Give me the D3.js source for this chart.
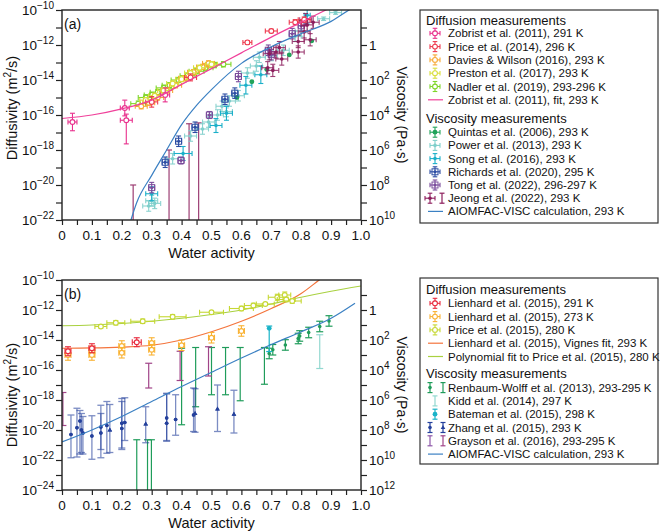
<!DOCTYPE html>
<html><head><meta charset="utf-8">
<script src="https://cdn.jsdelivr.net/npm/d3@7"></script>
<style>
body{margin:0;background:#fff;}
svg{font-family:"Liberation Sans",Arial,Helvetica,sans-serif;}
</style></head><body><svg id="c" width="661" height="532"></svg>
<script>
// ---------- tick labels ----------
const xTicks = [0,0.1,0.2,0.3,0.4,0.5,0.6,0.7,0.8,0.9,1.0];
const xTickLabels = ["0","0.1","0.2","0.3","0.4","0.5","0.6","0.7","0.8","0.9","1.0"];
const aDiffExp = [-10,-12,-14,-16,-18,-20,-22];
const aViscExp = [0,2,4,6,8,10];
const bDiffExp = [-10,-12,-14,-16,-18,-20,-22,-24];
const bViscExp = [0,2,4,6,8,10,12];

// ---------- panel (a) data: [aw, log10 D, xerr, yDown, yUp] ----------
const zobrist2011 = [[0.035,-16.4,0.015,0.5,0.5],[0.21,-15.6,0.015,0.45,0.45],[0.215,-16.3,0.02,1.35,0.35],[0.345,-14.85,0.015,0.4,0.4]];
const price2014 = [[0.30,-15.25,0.02,0.3,0.3],[0.43,-13.85,0.02,0.2,0.2],[0.62,-11.85,0.015,0.1,0.1],[0.70,-11.2,0.02,0.1,0.1],[0.78,-10.7,0.02,0.15,0.15],[0.81,-10.55,0.02,0.15,0.15]];
const davies2016 = [[0.265,-15.5,0.02,0.15,0.15],[0.29,-15.3,0.02,0.15,0.15],[0.32,-15.0,0.02,0.15,0.15],[0.35,-14.6,0.02,0.15,0.15],[0.38,-14.3,0.02,0.15,0.15],[0.41,-13.9,0.02,0.15,0.15],[0.44,-13.55,0.02,0.15,0.15],[0.47,-13.25,0.02,0.15,0.15],[0.49,-13.05,0.02,0.15,0.15]];
const preston2017 = [[0.28,-15.15,0.02,0.15,0.15],[0.31,-14.9,0.02,0.15,0.15],[0.34,-14.6,0.02,0.15,0.15],[0.37,-14.2,0.02,0.15,0.15],[0.40,-13.95,0.02,0.15,0.15],[0.43,-13.6,0.02,0.15,0.15],[0.46,-13.3,0.02,0.15,0.15],[0.50,-13.1,0.02,0.15,0.15]];
const nadler2019 = [[0.255,-15.35,0.025,0.15,0.15],[0.28,-15.0,0.025,0.15,0.15],[0.30,-14.85,0.025,0.15,0.15],[0.32,-14.7,0.025,0.15,0.15],[0.34,-14.45,0.025,0.15,0.15],[0.36,-14.3,0.025,0.15,0.15],[0.39,-14.0,0.025,0.15,0.15],[0.42,-13.75,0.025,0.15,0.15],[0.45,-13.5,0.025,0.15,0.15],[0.48,-13.3,0.025,0.15,0.15],[0.51,-13.15,0.025,0.15,0.15],[0.54,-13.1,0.025,0.15,0.15]];
const zobristFit = [[0,-16.2],[0.1,-16.0],[0.2,-15.65],[0.3,-15.15],[0.4,-14.25],[0.5,-13.35],[0.6,-12.45],[0.7,-11.55],[0.8,-10.7],[0.9,-9.85],[1.0,-9.0]];
const quintas2006 = [[0.585,-15.0,0.005,0.05,0.05],[0.635,-14.1,0.005,0.05,0.05],[0.685,-13.4,0.005,0.05,0.05],[0.76,-12.57,0.005,0.05,0.05],[0.835,-11.77,0.005,0.05,0.05]];
const power2013 = [[0.29,-21.2,0.02,0.3,0.3],[0.30,-20.9,0.02,0.3,0.3],[0.31,-21.05,0.02,0.3,0.3],[0.37,-18.5,0.02,0.3,0.3],[0.43,-17.2,0.02,0.3,0.3],[0.47,-16.8,0.02,0.3,0.3],[0.49,-16.4,0.02,0.3,0.3],[0.52,-16.0,0.02,0.3,0.3],[0.535,-15.5,0.02,0.3,0.3],[0.55,-15.8,0.02,0.3,0.3],[0.56,-15.2,0.02,0.3,0.3],[0.59,-14.9,0.02,0.3,0.3],[0.62,-13.6,0.02,0.3,0.3],[0.65,-13.2,0.02,0.3,0.3],[0.66,-12.7,0.02,0.3,0.3],[0.70,-12.6,0.02,0.3,0.3],[0.74,-12.3,0.02,0.3,0.3],[0.78,-11.5,0.02,0.3,0.3],[0.80,-11.2,0.02,0.3,0.3],[0.875,-10.5,0.02,0.1,0.1],[0.915,-10.15,0.02,0.1,0.1]];
const song2016 = [[0.30,-20.5,0.02,0.4,0.4],[0.405,-18.2,0.03,0.4,0.4],[0.515,-16.6,0.02,0.4,0.4],[0.55,-15.9,0.02,0.4,0.4],[0.615,-14.3,0.02,0.5,0.5],[0.665,-13.7,0.02,0.5,0.5],[0.82,-10.3,0.01,0.5,0.5]];
const richards2020 = [[0.345,-18.7,0.01,0.3,0.3],[0.39,-17.5,0.01,0.3,0.3],[0.445,-16.7,0.01,0.3,0.3],[0.545,-15.1,0.01,0.3,0.3],[0.578,-14.75,0.01,0.3,0.3]];
const tong2022 = [[0.30,-20.15,0.01,0.3,0.3],[0.398,-18.6,0.01,0.2,0.2],[0.493,-16.0,0.01,0.2,0.2],[0.59,-13.8,0.01,0.3,0.3],[0.69,-12.3,0.01,0.3,0.3],[0.70,-12.55,0.01,0.3,0.3],[0.77,-11.35,0.01,0.3,0.3],[0.80,-10.9,0.01,0.3,0.3]];
const jeong2022 = [[0.688,-13.3,0.02,0.35,0.35],[0.705,-13.45,0.02,0.35,0.35],[0.693,-12.5,0.02,0.35,0.35],[0.716,-12.4,0.02,0.35,0.35],[0.727,-12.15,0.02,0.35,0.35],[0.735,-12.8,0.02,0.35,0.35],[0.79,-12.4,0.02,0.35,0.35],[0.79,-11.8,0.02,0.35,0.35],[0.81,-11.25,0.02,0.35,0.35],[0.82,-10.85,0.02,0.35,0.35],[0.815,-10.55,0.02,0.35,0.35],[0.83,-11.7,0.02,0.35,0.35],[0.84,-10.7,0.02,0.35,0.35]];
// Jeong bars: [aw, upper log D, lower log D]
const jeong2022Bars = [[0.238,-20.0,-23],[0.358,-18.0,-23],[0.425,-16.5,-23],[0.457,-16.45,-23]];
const aiomfacA = [[0.22,-22.6],[0.25,-21.0],[0.3,-19.45],[0.35,-18.0],[0.4,-16.55],[0.45,-15.45],[0.5,-14.55],[0.6,-13.05],[0.7,-12.1],[0.8,-11.35],[0.9,-10.65],[0.96,-10.0],[1.0,-9.6]];

// ---------- panel (b) data ----------
const lienhard291 = [[0.02,-14.75,0.01,0.3,0.3],[0.10,-14.55,0.01,0.3,0.3],[0.25,-14.15,0.015,0.3,0.3]];
const lienhard273 = [[0.02,-15.0,0.01,0.35,0.35],[0.10,-14.75,0.01,0.35,0.35],[0.10,-15.0,0.01,0.35,0.35],[0.20,-14.4,0.01,0.35,0.35],[0.20,-14.85,0.01,0.35,0.35],[0.30,-14.2,0.01,0.35,0.35],[0.30,-14.65,0.01,0.35,0.35],[0.40,-14.35,0.01,0.35,0.35],[0.50,-13.85,0.01,0.35,0.35],[0.60,-13.4,0.01,0.35,0.35]];
const price2015 = [[0.13,-13.1,0.02,0.1,0.1],[0.18,-12.85,0.03,0.15,0.15],[0.27,-12.75,0.04,0.15,0.15],[0.37,-12.45,0.045,0.15,0.15],[0.50,-12.15,0.04,0.1,0.1],[0.60,-11.9,0.04,0.15,0.15],[0.64,-11.7,0.03,0.15,0.15],[0.68,-11.6,0.03,0.1,0.1],[0.72,-11.15,0.03,0.2,0.2],[0.745,-11.0,0.02,0.2,0.2],[0.75,-11.3,0.03,0.15,0.15],[0.77,-11.4,0.03,0.15,0.15]];
const vignesFit = [[0,-14.55],[0.1,-14.53],[0.2,-14.47],[0.3,-14.35],[0.4,-14.0],[0.5,-13.45],[0.6,-12.75],[0.7,-11.9],[0.8,-10.9],[0.86,-10.0],[0.9,-9.4]];
const polyFit = [[0,-13.05],[0.1,-13.0],[0.2,-12.9],[0.3,-12.75],[0.4,-12.55],[0.5,-12.3],[0.6,-12.0],[0.7,-11.6],[0.8,-11.15],[0.9,-10.75],[1.0,-10.4]];
const renbaumWolff2013 = [[0.693,-14.9,0,0.35,0.35],[0.705,-14.65,0,0.35,0.35],[0.747,-14.33,0,0.35,0.35],[0.79,-13.9,0,0.35,0.35],[0.795,-13.73,0,0.35,0.35],[0.825,-13.5,0,0.35,0.35],[0.862,-13.1,0,0.35,0.35],[0.893,-12.73,0,0.35,0.35]];
const renbaumWolff2013Bars = [[0.25,-20.65,-25],[0.286,-20.65,-25],[0.299,-20.65,-25],[0.40,-14.55,-19.65],[0.447,-14.5,-18.45],[0.50,-14.5,-17.65],[0.547,-14.5,-17.65],[0.596,-14.5,-18.05],[0.677,-14.5,-16.95]];
const kidd2014Bars = [[0.862,-13.65,-15.9]];
const bateman2015 = [[0.693,-13.22,0,1.55,0.15]];
const zhang2015Dots = [[0.03,-20.3,0,1.55,1.3],[0.05,-19.85,0,1.95,1.3],[0.06,-19.4,0,2.2,0.7],[0.065,-20.0,0,1.5,1.1],[0.07,-20.2,0,1.4,1.1],[0.10,-20.4,0,1.55,1.35],[0.13,-19.8,0,2.05,1.45],[0.13,-20.2,0,1.1,1.3],[0.15,-19.7,0,1.85,1.6],[0.20,-19.55,0,1.65,1.65],[0.20,-19.9,0,1.4,1.8],[0.21,-19.5,0,1.2,1.65],[0.35,-19.2,0,1.55,1.65],[0.35,-19.55,0,1.15,1.95],[0.38,-19.3,0,1.05,1.65],[0.44,-19.0,0,1.1,1.8]];
const zhang2015Triangles = [[0.16,-20.0,0,1.5,1.7],[0.28,-19.6,0,1.25,1.15],[0.445,-18.9,0,1.25,1.65],[0.52,-18.6,0,1.5,1.6],[0.575,-18.95,0,1.25,1.6]];
const grayson2016Bars = [[0.003,-17.5,-19.7],[0.29,-15.55,-17.2],[0.395,-14.75,-16.7],[0.49,-14.45,-16.4]];
const aiomfacB = [[0,-20.8],[0.1,-20.0],[0.2,-19.1],[0.3,-18.1],[0.4,-17.1],[0.5,-16.15],[0.6,-15.2],[0.7,-14.3],[0.8,-13.45],[0.9,-12.55],[0.98,-11.55]];

// ---------- colours ----------
const C = {
  zobrist:"#e8308c", price14:"#ee3a4e", davies:"#f7a935", preston:"#d9de3c", nadler:"#7fd62a", zfit:"#f0409a",
  quintas:"#21a35a", power:"#7fcfcb", song:"#1bb0c9", richards:"#2c4da3", tong:"#7b4c9c", jeong:"#8c1d5c", aiom:"#3b80c3",
  l291:"#e8283c", l273:"#f9b233", price15:"#c6d834", vignes:"#f4743c", poly:"#a9d140",
  renbaum:"#1f9c5a", kidd:"#92d8d0", bateman:"#1ab3c8", zhang:"#24409c", graysonA:"#a04488", graysonB:"#8c55a8"
};

const svg = d3.select("#c");
const x = d3.scaleLinear().domain([0,1]).range([62,361]);
const pw = v => Math.pow(10, v);

function errPx(g, color, cx, cy, xl, xr, yt, yb, cap, sw, op){
  const s = g.append("g").attr("stroke",color).attr("stroke-width",sw).attr("opacity",op==null?1:op).attr("fill","none");
  if (xl!=null){
    s.append("line").attr("x1",xl).attr("x2",xr).attr("y1",cy).attr("y2",cy);
    s.append("line").attr("x1",xl).attr("x2",xl).attr("y1",cy-cap).attr("y2",cy+cap);
    s.append("line").attr("x1",xr).attr("x2",xr).attr("y1",cy-cap).attr("y2",cy+cap);
  }
  if (yt!=null){
    s.append("line").attr("x1",cx).attr("x2",cx).attr("y1",yt).attr("y2",yb);
    s.append("line").attr("x1",cx-cap).attr("x2",cx+cap).attr("y1",yt).attr("y2",yt);
    s.append("line").attr("x1",cx-cap).attr("x2",cx+cap).attr("y1",yb).attr("y2",yb);
  }
}
function marker(g, type, color, cx, cy){
  if (type==="open"){
    g.append("circle").attr("cx",cx).attr("cy",cy).attr("r",2.4).attr("fill","#fff").attr("stroke",color).attr("stroke-width",1.1);
  } else if (type==="dot"){
    g.append("circle").attr("cx",cx).attr("cy",cy).attr("r",1.8).attr("fill",color);
  } else if (type==="bigdot"){
    g.append("circle").attr("cx",cx).attr("cy",cy).attr("r",2.4).attr("fill",color);
  } else if (type==="sq"){
    g.append("rect").attr("x",cx-3).attr("y",cy-3).attr("width",6).attr("height",6).attr("fill","none").attr("stroke",color).attr("stroke-width",1);
    g.append("circle").attr("cx",cx).attr("cy",cy).attr("r",1.5).attr("fill",color);
  } else if (type==="tri"){
    g.append("path").attr("d",`M${cx},${cy-2.6}L${cx+2.3},${cy+1.6}L${cx-2.3},${cy+1.6}Z`).attr("fill",color);
  }
}
function drawPoints(g, y, data, color, type, cap, sw, op){
  data.forEach(p => {
    const [aw, ld, xe, yd, yu] = p;
    const cx = x(aw), cy = y(pw(ld));
    const hasX = xe>0, hasY = (yd>0||yu>0);
    errPx(g, color, cx, cy, hasX?x(aw-xe):null, hasX?x(aw+xe):null, hasY?y(pw(ld+yu)):null, hasY?y(pw(ld-yd)):null, cap, sw, op);
    marker(g, type, color, cx, cy);
  });
}
function drawBars(g, y, data, color, cap, sw, op){
  data.forEach(p => {
    const [aw, hi, lo] = p;
    errPx(g, color, x(aw), 0, null, null, y(pw(hi)), y(pw(lo)), cap, sw, op);
  });
}
function drawLine(g, y, data, color){
  const ln = d3.line().x(d=>x(d[0])).y(d=>y(pw(d[1]))).curve(d3.curveMonotoneX);
  g.append("path").attr("d",ln(data)).attr("fill","none").attr("stroke",color).attr("stroke-width",1.2);
}

function axes(y, v, top, bottom, diffExp, viscExp, viscMin, viscMax, diffMin, label, titleY, viscTitleY){
  const ax = svg.append("g");
  ax.append("rect").attr("x",x(0)).attr("y",top).attr("width",x(1)-x(0)).attr("height",bottom-top)
    .attr("fill","none").attr("stroke","#222").attr("stroke-width",1.4);
  const decs = d3.range(diffMin, -9).map(pw);
  const la = d3.axisLeft(y).tickValues(decs).tickFormat("").tickSize(6).tickSizeOuter(0);
  ax.append("g").attr("transform",`translate(${x(0)},0)`).call(la).call(g=>{g.select(".domain").remove(); g.selectAll("line").attr("stroke","#222").attr("stroke-width",1.2);});
  const vdecs = d3.range(viscMin, viscMax+1).map(pw);
  const ra = d3.axisRight(v).tickValues(vdecs).tickFormat("").tickSize(6).tickSizeOuter(0);
  ax.append("g").attr("transform",`translate(${x(1)},0)`).call(ra).call(g=>{g.select(".domain").remove(); g.selectAll("line").attr("stroke","#222").attr("stroke-width",1.2);});
  const ba = d3.axisBottom(x).tickValues(d3.range(0,21).map(i=>i/20)).tickFormat("").tickSize(5).tickSizeOuter(0);
  ax.append("g").attr("transform",`translate(0,${bottom})`).call(ba).call(g=>{g.select(".domain").remove(); g.selectAll("line").attr("stroke","#222").attr("stroke-width",1.2);});
  diffExp.forEach(e=>{
    const t = ax.append("text").attr("x",54).attr("y",y(pw(e))+5).attr("text-anchor","end").attr("font-size",13.5).attr("fill","#111");
    t.append("tspan").text("10");
    t.append("tspan").attr("dy",-6).attr("font-size",10).text("\u2212"+(-e));
  });
  viscExp.forEach(e=>{
    const t = ax.append("text").attr("x",369).attr("y",v(pw(e))+5).attr("text-anchor","start").attr("font-size",13.5).attr("fill","#111");
    if (e===0) t.text("1");
    else { t.append("tspan").text("10"); t.append("tspan").attr("dy",-6).attr("font-size",10).text(e); }
  });
  xTicks.forEach((tv,i)=>{
    ax.append("text").attr("x",x(tv)).attr("y",bottom+20).attr("text-anchor","middle").attr("font-size",13.5).attr("fill","#111").text(xTickLabels[i]);
  });
  ax.append("text").attr("x",x(0.5)).attr("y",bottom+38).attr("text-anchor","middle").attr("font-size",14.5).attr("fill","#111").text("Water activity");
  const dt = ax.append("text").attr("transform",`translate(17,${titleY}) rotate(-90)`).attr("text-anchor","middle").attr("font-size",14.5).attr("fill","#111");
  dt.append("tspan").text("Diffusivity (m");
  dt.append("tspan").attr("dy",-6).attr("font-size",10).text("2");
  dt.append("tspan").attr("dy",6).text("/s)");
  ax.append("text").attr("transform",`translate(397,${viscTitleY}) rotate(90)`).attr("text-anchor","middle").attr("font-size",14).attr("fill","#111").text("Viscosity (Pa\u00b7s)");
  ax.append("text").attr("x",64).attr("y",top+19).attr("font-size",14).attr("fill","#111").text(label);
}

const yA = d3.scaleLog().domain([1e-22,1e-10]).range([220,10]);
const vA = d3.scaleLog().domain([1e-2,1e10]).range([10,220]);
const yB = d3.scaleLog().domain([1e-24,1e-10]).range([490,280]);
const vB = d3.scaleLog().domain([1e-2,1e12]).range([280,490]);

const defs = svg.append("defs");
defs.append("clipPath").attr("id","clipA").append("rect").attr("x",x(0)).attr("y",10).attr("width",x(1)-x(0)).attr("height",210);
defs.append("clipPath").attr("id","clipB").append("rect").attr("x",x(0)).attr("y",280).attr("width",x(1)-x(0)).attr("height",210);

// ---------- panel (a) ----------
const gA = svg.append("g").attr("clip-path","url(#clipA)");
drawBars(gA, yA, jeong2022Bars, C.jeong, 3, 1.2, 0.85);
drawPoints(gA, yA, power2013, C.power, "dot", 2.5, 1.1, 0.9);
drawPoints(gA, yA, song2016, C.song, "dot", 2.5, 1.1, 1);
drawPoints(gA, yA, quintas2006, C.quintas, "bigdot", 1, 1, 1);
drawPoints(gA, yA, richards2020, C.richards, "sq", 2.5, 1.1, 1);
drawPoints(gA, yA, tong2022, C.tong, "sq", 2.5, 1.1, 1);
drawPoints(gA, yA, jeong2022, C.jeong, "dot", 2.5, 1.1, 0.85);
drawLine(gA, yA, aiomfacA, C.aiom);
drawPoints(gA, yA, nadler2019, C.nadler, "open", 2.5, 1.1, 1);
drawPoints(gA, yA, davies2016, C.davies, "open", 2.5, 1.1, 1);
drawPoints(gA, yA, preston2017, C.preston, "open", 2.5, 1.1, 1);
drawPoints(gA, yA, price2014, C.price14, "open", 2.5, 1.1, 1);
drawPoints(gA, yA, zobrist2011, C.zobrist, "open", 2.5, 1.1, 1);
drawLine(gA, yA, zobristFit, C.zfit);
axes(yA, vA, 10, 220, aDiffExp, aViscExp, -1, 10, -22, "(a)", 108, 115);

// ---------- panel (b) ----------
const gB = svg.append("g").attr("clip-path","url(#clipB)");
drawBars(gB, yB, renbaumWolff2013Bars, C.renbaum, 3.5, 1.2, 1);
drawBars(gB, yB, kidd2014Bars, C.kidd, 3.5, 1.2, 1);
drawBars(gB, yB, grayson2016Bars, C.graysonA, 3.5, 1.2, 1);
drawPoints(gB, yB, zhang2015Dots, C.zhang, "dot", 3.5, 1.3, 0.6);
drawPoints(gB, yB, zhang2015Triangles, C.zhang, "tri", 3.5, 1.3, 0.6);
zhang2015Dots.forEach(p=>marker(gB,"dot",C.zhang,x(p[0]),yB(pw(p[1]))));
zhang2015Triangles.forEach(p=>marker(gB,"tri",C.zhang,x(p[0]),yB(pw(p[1]))));
drawPoints(gB, yB, renbaumWolff2013, C.renbaum, "dot", 3.5, 1.2, 1);
drawPoints(gB, yB, bateman2015, C.bateman, "bigdot", 3, 1.2, 1);
drawLine(gB, yB, aiomfacB, C.aiom);
drawLine(gB, yB, polyFit, C.poly);
drawLine(gB, yB, vignesFit, C.vignes);
drawPoints(gB, yB, price2015, C.price15, "open", 2.5, 1.1, 1);
drawPoints(gB, yB, lienhard273, C.l273, "open", 3, 1.1, 1);
drawPoints(gB, yB, lienhard291, C.l291, "open", 3, 1.1, 1);
axes(yB, vB, 280, 490, bDiffExp, bViscExp, -1, 12, -24, "(b)", 395, 385);

// ---------- legends ----------
function legend(box, rows){
  const g = svg.append("g");
  g.append("rect").attr("x",box[0]).attr("y",box[1]).attr("width",box[2]).attr("height",box[3]).attr("fill","#fff").attr("stroke","#333").attr("stroke-width",1.2);
  rows.forEach(r=>{
    if (r.header){
      g.append("text").attr("x",426).attr("y",r.y).attr("dominant-baseline","central").attr("font-size",13).attr("fill","#111").text(r.header);
      return;
    }
    g.append("text").attr("x",448).attr("y",r.y).attr("dominant-baseline","central").attr("font-size",11.5).attr("fill","#111").text(r.text);
    r.draw(g, r.y);
  });
}
const diffSym = c => (g,y)=>{ errPx(g,c,435,y,430,440,y-5,y+5,2.3,1.1,1); marker(g,"open",c,435,y); };
const dotSym = (c,t) => (g,y)=>{ errPx(g,c,435,y,430,440,y-5,y+5,2.3,1.1,1); marker(g,t||"dot",c,435,y); };
const lineSym = c => (g,y)=>{ g.append("line").attr("x1",428).attr("x2",443).attr("y1",y).attr("y2",y).attr("stroke",c).attr("stroke-width",1.2); };
const ibar = (c,cx) => (g,y)=>{ errPx(g,c,cx,y,null,null,y-5,y+5,2.5,1.2,1); };
const vdot = (c,cx,t) => (g,y)=>{ errPx(g,c,cx,y,null,null,y-5,y+5,2.5,1.2,1); marker(g,t||"dot",c,cx,y); };

legend([420,10,238,213],[
  {header:"Diffusion measurements", y:20},
  {text:"Zobrist et al. (2011), 291 K", y:33.3, draw:diffSym(C.zobrist)},
  {text:"Price et al. (2014), 296 K", y:46.6, draw:diffSym(C.price14)},
  {text:"Davies & Wilson (2016), 293 K", y:59.9, draw:diffSym(C.davies)},
  {text:"Preston et al. (2017), 293 K", y:73.2, draw:diffSym(C.preston)},
  {text:"Nadler et al. (2019), 293-296 K", y:86.5, draw:diffSym(C.nadler)},
  {text:"Zobrist et al. (2011), fit, 293 K", y:99.8, draw:lineSym(C.zfit)},
  {header:"Viscosity measurements", y:118.3},
  {text:"Quintas et al. (2006), 293 K", y:132.2, draw:dotSym(C.quintas,"bigdot")},
  {text:"Power et al. (2013), 293 K", y:145.4, draw:dotSym(C.power)},
  {text:"Song et al. (2016), 293 K", y:158.6, draw:dotSym(C.song)},
  {text:"Richards et al. (2020), 295 K", y:171.8, draw:dotSym(C.richards,"sq")},
  {text:"Tong et al. (2022), 296-297 K", y:185, draw:dotSym(C.tong,"sq")},
  {text:"Jeong et al. (2022), 293 K", y:198.2, draw:(g,y)=>{ errPx(g,C.jeong,430,y,425,435,y-5,y+5,2.3,1.1,1); marker(g,"dot",C.jeong,430,y); ibar(C.jeong,442)(g,y);} },
  {text:"AIOMFAC-VISC calculation, 293 K", y:211.4, draw:lineSym(C.aiom)}
]);

legend([420,278,238,186],[
  {header:"Diffusion measurements", y:289.3},
  {text:"Lienhard et al. (2015), 291 K", y:303.3, draw:diffSym(C.l291)},
  {text:"Lienhard et al. (2015), 273 K", y:316.6, draw:diffSym(C.l273)},
  {text:"Price et al. (2015), 280 K", y:329.9, draw:diffSym(C.price15)},
  {text:"Lienhard et al. (2015), Vignes fit, 293 K", y:343.2, draw:lineSym(C.vignes)},
  {text:"Polynomial fit to Price et al. (2015), 280 K", y:356.5, draw:lineSym(C.poly)},
  {header:"Viscosity measurements", y:373.3},
  {text:"Renbaum-Wolff et al. (2013), 293-295 K", y:387.6, draw:(g,y)=>{ vdot(C.renbaum,430)(g,y); ibar(C.renbaum,443)(g,y);} },
  {text:"Kidd et al. (2014), 297 K", y:400.9, draw:ibar(C.kidd,435)},
  {text:"Bateman et al. (2015), 298 K", y:414.2, draw:vdot(C.bateman,435,"bigdot")},
  {text:"Zhang et al. (2015), 293 K", y:427.5, draw:(g,y)=>{ vdot(C.zhang,430)(g,y); vdot(C.zhang,443,"tri")(g,y);} },
  {text:"Grayson et al. (2016), 293-295 K", y:440.8, draw:(g,y)=>{ ibar(C.graysonB,430)(g,y); ibar(C.graysonA,443)(g,y);} },
  {text:"AIOMFAC-VISC calculation, 293 K", y:454.1, draw:lineSym(C.aiom)}
]);
</script></body></html>
